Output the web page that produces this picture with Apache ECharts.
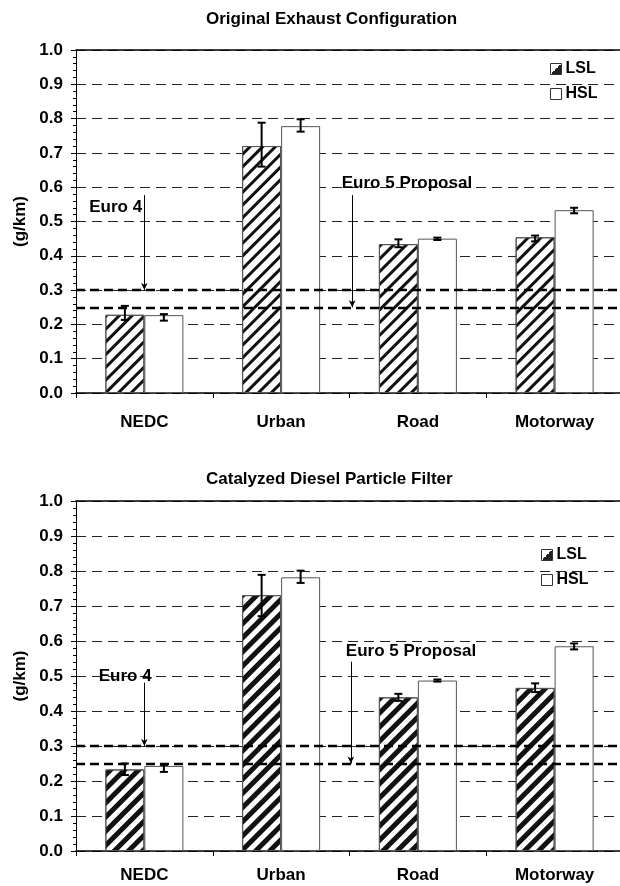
<!DOCTYPE html>
<html>
<head>
<meta charset="utf-8">
<script src="https://cdn.jsdelivr.net/npm/echarts@6/dist/echarts.min.js"></script>
<style>
  html, body { margin: 0; padding: 0; background: #fff; }
  #chart { width: 620px; height: 886px; }
</style>
</head>
<body>
<div id="chart"></div>
<script>
// values (g/km)
var categories = ['NEDC', 'Urban', 'Road', 'Motorway'];

var topLSL = [0.228, 0.720, 0.434, 0.454];
var topHSL = [0.227, 0.778, 0.450, 0.533];
var topLSLLow = [0.213, 0.660, 0.425, 0.442];
var topLSLHigh = [0.254, 0.788, 0.448, 0.459];
var topHSLLow = [0.211, 0.762, 0.446, 0.524];
var topHSLHigh = [0.230, 0.798, 0.453, 0.540];

var botLSL = [0.233, 0.731, 0.439, 0.466];
var botHSL = [0.243, 0.782, 0.487, 0.585];
var botLSLLow = [0.217, 0.671, 0.429, 0.454];
var botLSLHigh = [0.250, 0.789, 0.449, 0.479];
var botHSLLow = [0.226, 0.766, 0.484, 0.576];
var botHSLHigh = [0.246, 0.801, 0.490, 0.593];

var euro4 = 0.30;
var euro5 = 0.25;

var FONT = "'Liberation Sans', Arial, sans-serif";
var BAR_W = 39;

var myChart = echarts.init(document.getElementById('chart'));

function errData(low, high, side) {
  return categories.map(function (c, i) { return [i, low[i], high[i], side]; });
}

function renderErr(params, api) {
  var cat = api.value(0);
  var off = api.value(3) * BAR_W / 2;
  var hi = api.coord([cat, api.value(2)]);
  var lo = api.coord([cat, api.value(1)]);
  var x = hi[0] + off;
  var cap = 4;
  var st = { stroke: '#000', lineWidth: 2 };
  return {
    type: 'group',
    children: [
      { type: 'line', shape: { x1: x, y1: hi[1], x2: x, y2: lo[1] }, style: st },
      { type: 'line', shape: { x1: x - cap, y1: hi[1], x2: x + cap, y2: hi[1] }, style: st },
      { type: 'line', shape: { x1: x - cap, y1: lo[1], x2: x + cap, y2: lo[1] }, style: st }
    ]
  };
}

// one panel = bars + error bars + Euro limit lines
function panel(p, lsl, hsl, lslLo, lslHi, hslLo, hslHi, ann, stripe) {
  var catX = 2 * p, valX = 2 * p + 1;
  var refStyle = { type: [9, 5], width: 2.4, color: '#000' };
  var arrowStyle = { type: 'solid', width: 1, color: '#000' };
  return [
    {
      name: 'LSL', type: 'bar', xAxisIndex: catX, yAxisIndex: p,
      barWidth: BAR_W, barGap: '0%',
      itemStyle: {
        color: '#fff', borderColor: '#555', borderWidth: 1,
        decal: {
          symbol: 'rect', symbolSize: 1, dashArrayX: [1, 0],
          dashArrayY: stripe, rotation: -Math.PI / 4, color: '#111'
        }
      },
      data: lsl
    },
    {
      name: 'HSL', type: 'bar', xAxisIndex: catX, yAxisIndex: p,
      barWidth: BAR_W, barGap: '0%',
      itemStyle: { color: '#fff', borderColor: '#555', borderWidth: 1 },
      data: hsl
    },
    {
      name: 'err', type: 'custom', xAxisIndex: catX, yAxisIndex: p, z: 4,
      renderItem: renderErr, encode: { x: 0, y: [1, 2] },
      data: errData(lslLo, lslHi, -1).concat(errData(hslLo, hslHi, 1))
    },
    {
      name: 'limits', type: 'line', xAxisIndex: valX, yAxisIndex: p, data: [], z: 6, silent: true,
      markLine: {
        silent: true, animation: false, symbol: 'none', label: { show: false },
        data: [
          { yAxis: euro4, lineStyle: refStyle },
          { yAxis: euro5, lineStyle: refStyle },
          [{ coord: ann.e4Arrow[0], symbol: 'none', lineStyle: arrowStyle },
           { coord: ann.e4Arrow[1], symbol: 'arrow', symbolSize: [5, 7] }],
          [{ coord: ann.e5Arrow[0], symbol: 'none', lineStyle: arrowStyle },
           { coord: ann.e5Arrow[1], symbol: 'arrow', symbolSize: [5, 7] }]
        ]
      },
      markPoint: {
        silent: true, animation: false, symbol: 'circle', symbolSize: 1,
        itemStyle: { color: 'rgba(0,0,0,0)' },
        label: {
          show: true, position: 'inside', color: '#000',
          fontFamily: FONT, fontWeight: 'bold', fontSize: 17,
          formatter: function (o) { return o.name; }
        },
        data: [
          { name: 'Euro 4', coord: ann.e4Text },
          { name: 'Euro 5 Proposal', coord: ann.e5Text }
        ]
      }
    }
  ];
}

function catAxis(g, margin) {
  return {
    gridIndex: g, type: 'category', data: categories,
    axisLine: { onZero: false, lineStyle: { color: '#000', width: 1.5 } },
    axisTick: { show: true, length: 5, lineStyle: { color: '#000' } },
    axisLabel: { margin: margin, color: '#000', fontFamily: FONT, fontWeight: 'bold', fontSize: 17 },
    splitLine: { show: false }
  };
}
function frameAxis(g) {
  return {
    gridIndex: g, type: 'value', min: 0, max: 4, position: 'top',
    axisLine: { show: true, onZero: false, lineStyle: { color: '#000', width: 1.5 } },
    axisTick: { show: false }, axisLabel: { show: false }, splitLine: { show: false }
  };
}
function valAxis(g) {
  return {
    gridIndex: g, type: 'value', min: 0, max: 1, interval: 0.1,
    name: '(g/km)', nameLocation: 'middle', nameGap: 45, nameRotate: 90,
    nameTextStyle: { color: '#000', fontFamily: FONT, fontWeight: 'bold', fontSize: 17 },
    axisLine: { show: true, onZero: false, lineStyle: { color: '#000', width: 1 } },
    axisTick: { show: true, length: 5, lineStyle: { color: '#000' } },
    minorTick: { show: true, splitNumber: 5, length: 3, lineStyle: { color: '#000' } },
    axisLabel: {
      margin: 13, color: '#000', fontFamily: FONT, fontWeight: 'bold', fontSize: 17,
      formatter: function (v) { return v.toFixed(1); }
    },
    splitLine: { show: true, lineStyle: { color: '#222', width: 1, type: [10, 6] } }
  };
}

function legendItems() {
  return [
    { name: 'LSL', itemStyle: {
        color: new echarts.graphic.LinearGradient(0, 0, 1, 1, [
          { offset: 0, color: '#fff' }, { offset: 0.5, color: '#fff' },
          { offset: 0.5, color: '#222' }, { offset: 1, color: '#222' }
        ]), borderColor: '#333', borderWidth: 1, decal: 'none' } },
    { name: 'HSL', itemStyle: { color: '#fff', borderColor: '#333', borderWidth: 1, decal: 'none' } }
  ];
}
function legend(left, top) {
  return {
    orient: 'vertical', left: left, top: top, itemGap: 9, itemWidth: 11, itemHeight: 11,
    icon: 'rect', selectedMode: false, padding: 0,
    textStyle: { color: '#000', fontFamily: FONT, fontWeight: 'bold', fontSize: 16, padding: [0, 0, 0, -1] },
    data: legendItems()
  };
}

var topAnn = { e4Arrow: [[0.5, 0.577], [0.5, euro4]], e5Arrow: [[2.02, 0.577], [2.02, euro5]],
               e4Text: [0.29, 0.542], e5Text: [2.42, 0.612] };
var botAnn = { e4Arrow: [[0.5, 0.481], [0.5, euro4]], e5Arrow: [[2.01, 0.541], [2.01, euro5]],
               e4Text: [0.36, 0.498], e5Text: [2.45, 0.571] };

var option = {
  animation: false,
  backgroundColor: '#fff',
  title: [
    { text: 'Original Exhaust Configuration', left: 206, top: 11, padding: 0,
      textStyle: { color: '#000', fontFamily: FONT, fontWeight: 'bold', fontSize: 17 } },
    { text: 'Catalyzed Diesel Particle Filter', left: 206, top: 471, padding: 0,
      textStyle: { color: '#000', fontFamily: FONT, fontWeight: 'bold', fontSize: 17 } }
  ],
  legend: [legend(550, 61), legend(541, 547)],
  grid: [
    { left: 76, top: 50, width: 547, height: 343, outerBoundsMode: 'none' },
    { left: 76, top: 501, width: 547, height: 350, outerBoundsMode: 'none' }
  ],
  xAxis: [catAxis(0, 21), frameAxis(0), catAxis(1, 16), frameAxis(1)],
  yAxis: [valAxis(0), valAxis(1)],
  series: panel(0, topLSL, topHSL, topLSLLow, topLSLHigh, topHSLLow, topHSLHigh, topAnn, [2.5, 6])
    .concat(panel(1, botLSL, botHSL, botLSLLow, botLSLHigh, botHSLLow, botHSLHigh, botAnn, [5, 5]))
};

myChart.setOption(option);
</script>
</body>
</html>
